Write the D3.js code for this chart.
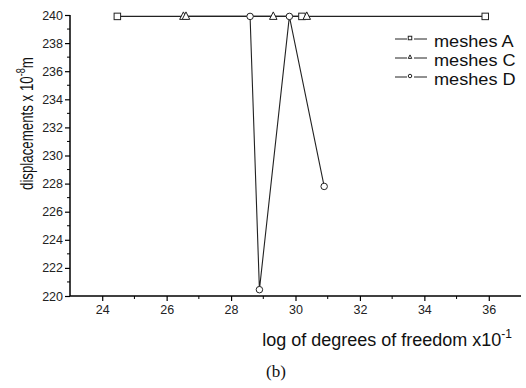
<!DOCTYPE html>
<html>
<head>
<meta charset="utf-8">
<script src="https://cdn.jsdelivr.net/npm/d3@7"></script>
<style>
  body { margin: 0; background: #fff; }
  svg { display: block; font-family: "Liberation Sans", Arial, sans-serif; }
</style>
</head>
<body>
<div id="chart"></div>
<script>
// data
const meshA_x = [24.47, 30.2, 35.89]
const meshA_y = [239.9, 239.9, 239.9]
const meshC_x = [26.52, 26.6, 29.31, 30.35]
const meshC_y = [239.9, 239.9, 239.9, 239.9]
const meshD_x = [28.59, 28.88, 29.81, 30.89]
const meshD_y = [239.9, 220.45, 239.9, 227.8]

const xTicks = [24, 26, 28, 30, 32, 34, 36]
const yTicks = [220, 222, 224, 226, 228, 230, 232, 234, 236, 238, 240]

const width = 526
const height = 388
const margin = { top: 15, right: 5, bottom: 92, left: 70 }

const svg = d3.select('#chart')
  .append('svg')
  .attr('width', width)
  .attr('height', height)

const x = d3.scaleLinear().domain([23, 37]).range([margin.left, width - margin.right])
const y = d3.scaleLinear().domain([220, 240]).range([height - margin.bottom, margin.top])

const series = [
  { name: 'meshes A', xs: meshA_x, ys: meshA_y, shape: 'square' },
  { name: 'meshes C', xs: meshC_x, ys: meshC_y, shape: 'triangle' },
  { name: 'meshes D', xs: meshD_x, ys: meshD_y, shape: 'circle' },
]

// axes
const xAxis = d3.axisBottom(x).tickValues(xTicks).tickSize(5).tickPadding(4)
const yAxis = d3.axisLeft(y).tickValues(yTicks).tickSize(5).tickPadding(2)

const gx = svg.append('g')
  .attr('transform', `translate(0,${y.range()[0]})`)
  .call(xAxis)
gx.select('.domain').attr('d', `M${x.range()[0]},0H${x.range()[1]}`).attr('stroke-width', 1.5)

const gy = svg.append('g')
  .attr('transform', `translate(${x.range()[0]},0)`)
  .call(yAxis)
gy.select('.domain').attr('d', `M0,${y.range()[0]}V${y.range()[1]}`).attr('stroke-width', 1.5)

// minor ticks
gx.selectAll('line.minor')
  .data(d3.range(25, 37, 2))
  .join('line')
  .attr('class', 'minor')
  .attr('x1', d => x(d)).attr('x2', d => x(d))
  .attr('y1', 0).attr('y2', 3)
  .attr('stroke', '#000')
gy.selectAll('line.minor')
  .data(d3.range(221, 240, 2))
  .join('line')
  .attr('class', 'minor')
  .attr('y1', d => y(d)).attr('y2', d => y(d))
  .attr('x1', 0).attr('x2', -3)
  .attr('stroke', '#000')

svg.selectAll('.tick line').attr('stroke-width', 1.2)
svg.selectAll('.tick text')
  .attr('font-size', 12.5)
  .attr('fill', '#222')
  .attr('font-family', '"Liberation Sans", Arial, sans-serif')

// lines
const line = d3.line().x(d => x(d[0])).y(d => y(d[1]))
series.forEach(s => {
  const pts = s.xs.map((v, i) => [v, s.ys[i]])
  svg.append('path')
    .datum(pts)
    .attr('d', line)
    .attr('fill', 'none')
    .attr('stroke', '#222')
    .attr('stroke-width', 1.1)
})

function drawMarker(g, shape, cx, cy, size) {
  if (shape === 'square') {
    g.append('rect')
      .attr('x', cx - size / 2).attr('y', cy - size / 2)
      .attr('width', size).attr('height', size)
      .attr('fill', '#fff').attr('stroke', '#222').attr('stroke-width', 1)
  } else if (shape === 'circle') {
    g.append('circle')
      .attr('cx', cx).attr('cy', cy).attr('r', size / 2)
      .attr('fill', '#fff').attr('stroke', '#222').attr('stroke-width', 1)
  } else {
    const h = size
    g.append('path')
      .attr('d', `M${cx},${cy - h * 0.6}L${cx + h / 2},${cy + h * 0.4}L${cx - h / 2},${cy + h * 0.4}Z`)
      .attr('fill', '#fff').attr('stroke', '#222').attr('stroke-width', 1)
  }
}

// markers
const markG = svg.append('g')
series.forEach(s => {
  s.xs.forEach((v, i) => drawMarker(markG, s.shape, x(v), y(s.ys[i]), s.shape === 'triangle' ? 7.5 : 6.5))
})

// legend
const legend = svg.append('g').attr('transform', 'translate(395,39)')
series.forEach((s, i) => {
  const g = legend.append('g').attr('transform', `translate(0,${i * 19})`)
  g.append('line').attr('x1', 0).attr('x2', 12).attr('y1', 0).attr('y2', 0).attr('stroke', '#222')
  g.append('line').attr('x1', 19).attr('x2', 32).attr('y1', 0).attr('y2', 0).attr('stroke', '#222')
  drawMarker(g, s.shape, 15, -1, 3.5)
  g.append('text')
    .attr('transform', 'translate(39,8) scale(1.1,1)')
    .attr('font-size', 16.5)
    .attr('fill', '#111')
    .text(s.name)
})

// axis titles
const xt = svg.append('text')
  .attr('x', 512).attr('y', 346)
  .attr('text-anchor', 'end')
  .attr('font-size', 18)
  .attr('fill', '#111')
xt.append('tspan').text('log of degrees of freedom x10')
xt.append('tspan').attr('dy', -8).attr('font-size', 12).text('-1')

// rotated title, squeezed along its length like the reference
const yt = svg.append('text')
  .attr('transform', 'translate(33,190) rotate(-90) scale(0.7,1)')
  .attr('font-size', 19)
  .attr('fill', '#111')
yt.append('tspan').text('displacements x 10')
yt.append('tspan').attr('dy', -8).attr('font-size', 13).text('-8')
yt.append('tspan').attr('dy', 8).text('m')

// caption
svg.append('text')
  .attr('x', 276).attr('y', 377)
  .attr('text-anchor', 'middle')
  .attr('font-family', '"Liberation Serif", "Times New Roman", serif')
  .attr('font-size', 17)
  .attr('fill', '#111')
  .text('(b)')
</script>
</body>
</html>
